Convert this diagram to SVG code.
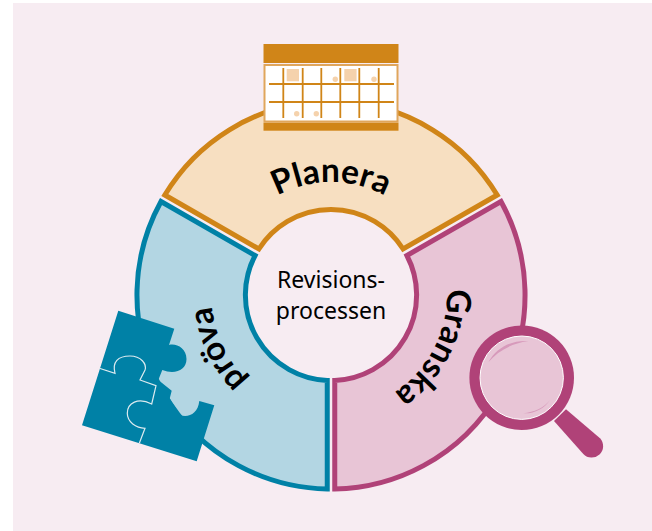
<svg xmlns="http://www.w3.org/2000/svg" width="652" height="531" viewBox="0 0 652 531">
<style>
.seg{stroke-width:5;stroke-linejoin:miter;stroke-miterlimit:10}
.lab{font-family:"Lato","Noto Sans",sans-serif;font-weight:700;font-size:33.500px;fill:#000;text-anchor:middle}
.mid{font-family:"Noto Sans","Open Sans",sans-serif;font-size:23px;fill:#000;text-anchor:middle}
.g{stroke:#D08518;stroke-width:1.800;fill:none}
.c{fill:#F5D2AC}
</style>
<defs>
<path id="pPlan" d="M218,295 A113,113 0 0 1 444,295"/>
<path id="pGran" d="M384.600,189.900 A118,118 0 0 1 277.400,400.100"/>
<path id="pProv" d="M383.100,404.200 A121,121 0 0 1 278.900,185.800"/>
</defs>
<rect width="652" height="531" fill="#fff"/>
<rect x="13" y="3" width="639" height="528" fill="#F7ECF2"/>
<g id="planera">
<path class="seg" fill="#F7DFC1" stroke="#D08518" d="M164.800,195 A194,194 0 0 1 497.200,195 L403.100,249 A85.500,85.500 0 0 0 258.900,249 Z"/>
<text class="lab"><textPath href="#pPlan" startOffset="50%">Planera</textPath></text>
</g>
<g id="prova">
<path class="seg" fill="#B3D6E3" stroke="#0081A6" d="M161,201.500 A194,194 0 0 0 327.250,489 L327.250,380.500 A85.500,85.500 0 0 1 255.100,255.500 Z"/>
<text class="lab"><textPath href="#pProv" startOffset="50%">pröva</textPath></text>
</g>
<g id="granska">
<path class="seg" fill="#E8C5D6" stroke="#B04278" d="M501,201.500 A194,194 0 0 1 334.750,489 L334.750,380.500 A85.500,85.500 0 0 0 406.900,255.500 Z"/>
<text class="lab"><textPath href="#pGran" startOffset="50%">Granska</textPath></text>
</g>
<g id="centre">
<text class="mid" x="331" y="288">Revisions-</text>
<text class="mid" x="331" y="319">processen</text>
</g>
<g id="calendar">
<rect x="263.500" y="44" width="135" height="19" fill="#D08518"/>
<rect x="264.500" y="65" width="133" height="56.500" fill="#fff" stroke="#E0A65C" stroke-width="2"/>
<rect x="263.500" y="122.700" width="135" height="8" fill="#D08518"/>
<rect class="c" x="286.700" y="69" width="12.300" height="12.300"/>
<rect class="c" x="344.300" y="69" width="12.300" height="12.300"/>
<circle class="c" cx="335.300" cy="79.300" r="2.700"/>
<circle class="c" cx="374" cy="79.300" r="2.700"/>
<circle class="c" cx="296.700" cy="113.700" r="2.700"/>
<circle class="c" cx="316.300" cy="113.700" r="2.700"/>
<path class="g" d="M283.300,68V118M302.700,68V118M321.300,68V118M340.300,68V118M359.300,68V118M378.700,68V118M269,84H394M269,102H394"/>
</g>
<g id="puzzle">
<path fill="#0081A6" d="M118.300,310.700 L174.300,328.700 L169,345 C176,343 186.500,348 186.500,359 C186.500,370 175,375 162.300,370 L158.300,380 L171.700,390.700 L169.700,398.500 L180,415 C188,418 198,414 199.300,401 L214.300,405.300 L196.700,461.300 L82,425.300 Z"/>
<path fill="none" stroke="#DCEBF0" stroke-width="1.200" d="M99.300,368.300 L115,373.300 C112,362 118,356 130,356 C141,356 147,364 145,370 L140,380 L156,385.700 L151.700,404 C138,397 127.300,403 127.300,413.300 C127.300,422 136,428 145,428.300 L139.300,443.300"/>
</g>
<g id="magnifier">
<path fill="#B04278" d="M566,409.300 L600,438.300 A11,11 0 0 1 583.300,454 L554,421 Z"/>
<circle cx="521.700" cy="377.700" r="52.300" fill="#B04278"/>
<circle cx="521.700" cy="377.700" r="41.700" fill="#E8C5D6" stroke="#fff" stroke-width="1"/>
<path fill="#D79ABB" d="M488.300,362.300 C497,347 512,340 528.300,341 C510,344 498,351 488.300,362.300 Z"/>
<path fill="#D79ABB" d="M523.300,413.300 C534,414 544,409 550,400 C544,408 534,412 523.300,413.300 Z"/>
</g>
</svg>
